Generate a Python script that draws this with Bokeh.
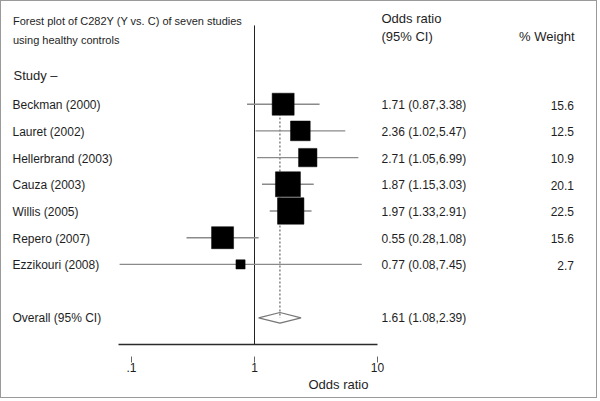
from bokeh.plotting import figure
from bokeh.models import Range1d, FixedTicker, ColumnDataSource, LinearScale, Title
from bokeh.core.properties import value
from bokeh.embed import file_html
from bokeh.resources import INLINE
import math

# ---------------- data ----------------
studies = ["Beckman (2000)", "Lauret (2002)", "Hellerbrand (2003)", "Cauza (2003)",
           "Willis (2005)", "Repero (2007)", "Ezzikouri (2008)"]
odds = [1.71, 2.36, 2.71, 1.87, 1.97, 0.55, 0.77]
ci_low = [0.87, 1.02, 1.05, 1.15, 1.33, 0.28, 0.08]
ci_high = [3.38, 5.47, 6.99, 3.03, 2.91, 1.08, 7.45]
weights = [15.6, 12.5, 10.9, 20.1, 22.5, 15.6, 2.7]
overall_label = "Overall (95% CI)"
overall_or = 1.61
overall_low = 1.08
overall_high = 2.39
x_ticks = [0.1, 1, 10]
x_tick_labels = [".1", "1", "10"]
title_lines = ["Forest plot of C282Y (Y vs. C) of seven studies", "using healthy controls"]
x_title = "Odds ratio"

# ---------------- layout ----------------
W, H = 597, 398
FRAME_H = 343
FONT = "Liberation Sans"
TXT = "#1e1e1e"

rows = list(range(len(studies)))
overall_row = len(studies) + 1

p = figure(width=W, height=H, output_backend="svg", toolbar_location=None,
           x_axis_type="log", y_axis_location=None,
           x_range=Range1d(10 ** (-253 / 123), 10 ** (344 / 123)),
           y_range=Range1d(9.0, -3.846),
           min_border_left=0, min_border_right=0, min_border_top=0,
           min_border_bottom=H - FRAME_H)
p.extra_x_ranges = {"px": Range1d(0, W)}
p.extra_y_ranges = {"px": Range1d(FRAME_H, 0)}
p.extra_x_scales = {"px": LinearScale()}
p.extra_y_scales = {"px": LinearScale()}
p.grid.visible = False
p.outline_line_color = None
p.background_fill_color = "white"
p.border_fill_color = "white"
p.styles = {"border": "1px solid #9a9a9a"}

# x axis (Stata-like, detached ticks)
ax = p.xaxis[0]
ax.ticker = FixedTicker(ticks=x_ticks)
ax.major_label_overrides = {t: l for t, l in zip(x_ticks, x_tick_labels)}
ax.bounds = (0.078, 10.0)
ax.axis_line_color = "#2a2a2a"
ax.axis_line_width = 1.6
ax.major_tick_in = -12
ax.major_tick_out = 18
ax.major_tick_line_color = "#666666"
ax.minor_tick_line_color = None
ax.major_label_standoff = 0
ax.major_label_text_font = FONT
ax.major_label_text_font_size = "12px"
ax.major_label_text_color = TXT

# axis title below the axis, shifted right as in the reference
p.add_layout(Title(text=x_title, align="left", offset=307, standoff=0,
                   text_font=FONT, text_font_size="13px", text_font_style="normal",
                   text_color=TXT), "below")

# null line at OR = 1
p.segment(x0=[1], x1=[1], y0=[-2.95], y1=[9.0], line_color="#222222", line_width=1)

# overall dashed line
p.segment(x0=[overall_or], x1=[overall_or], y0=[-0.4], y1=[overall_row],
          line_color="#444444", line_width=1, line_dash="2 2")

# CI lines and boxes
src = ColumnDataSource(dict(
    row=rows, odds=odds, lo=ci_low, hi=ci_high, w=weights,
    size=[5.57 * math.sqrt(w) for w in weights],
    name=studies,
    ortxt=[f"{o:.2f} ({l:.2f},{h:.2f})" for o, l, h in zip(odds, ci_low, ci_high)],
    wtxt=[f"{w:.1f}" for w in weights],
))
p.segment(x0="lo", x1="hi", y0="row", y1="row", source=src,
          line_color="#8a8a8a", line_width=1.4)
p.scatter(x="odds", y="row", size="size", marker="square", source=src,
          fill_color="black", line_color="black", line_width=0.5)

# overall diamond
dh = 0.2
p.patch(x=[overall_low, overall_or, overall_high, overall_or],
        y=[overall_row, overall_row - dh, overall_row, overall_row + dh],
        fill_color=None, line_color="#777777", line_width=1.2)

# row texts
common = dict(text_font=value(FONT), text_font_size="12px", text_color=TXT,
              text_baseline="alphabetic")
p.text(x=11, y="row", text="name", source=src, x_range_name="px", y_offset=1, **common)
p.text(x=380, y="row", text="ortxt", source=src, x_range_name="px", y_offset=1, **common)
p.text(x=572.5, y="row", text="wtxt", source=src, x_range_name="px", y_offset=1,
       text_align="right", **common)

osrc = ColumnDataSource(dict(row=[overall_row], name=[overall_label],
                             ortxt=[f"{overall_or:.2f} ({overall_low:.2f},{overall_high:.2f})"]))
p.text(x=11, y="row", text="name", source=osrc, x_range_name="px", **common)
p.text(x=380, y="row", text="ortxt", source=osrc, x_range_name="px", **common)

# headers (pixel placement)
def ptext(x, y, t, size, align="left"):
    p.text(x=[x], y=[y], text=[t], x_range_name="px", y_range_name="px",
           text_font=value(FONT), text_font_size=size, text_color=TXT,
           text_align=align, text_baseline="alphabetic")

ptext(11.5, 19.7, title_lines[0], "11px")
ptext(11.5, 38.7, title_lines[1], "11px")
ptext(12, 74, "Study \u2013", "13px")
ptext(380, 16.6, "Odds ratio", "13px")
ptext(380, 34.5, "(95% CI)", "13px")
ptext(573, 34.5, "% Weight", "13px", align="right")

open("out.html", "w").write(file_html(p, INLINE))
